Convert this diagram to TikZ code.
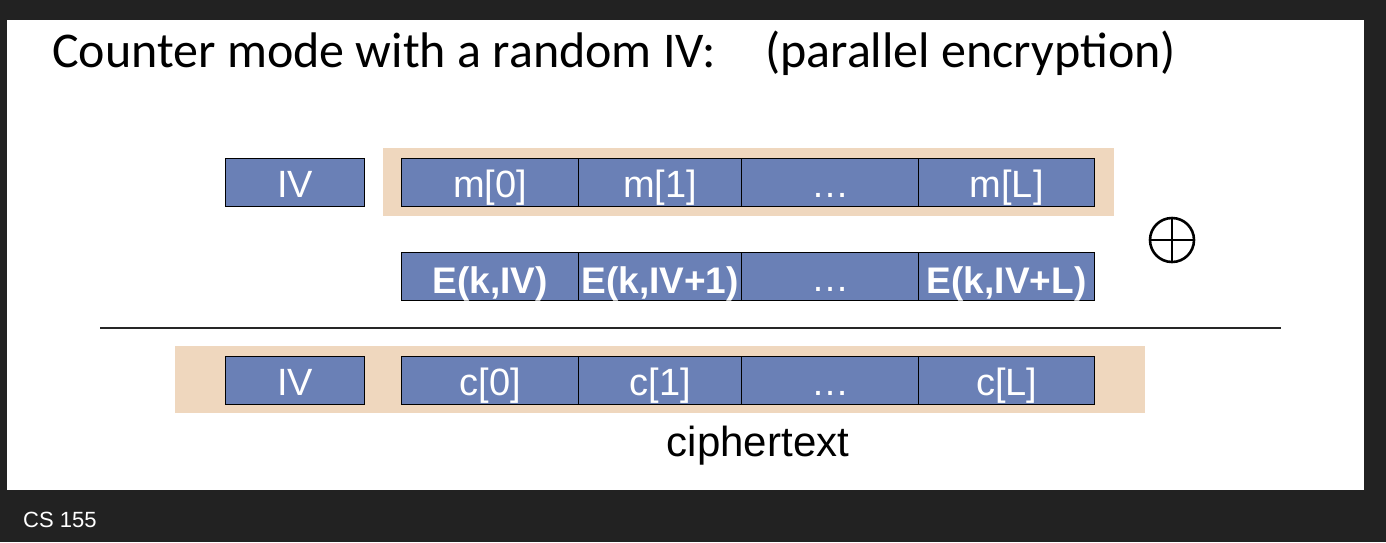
\documentclass[tikz,border=0pt]{standalone}
\usepackage{fontspec}
\setmainfont{Liberation Sans}
\newfontfamily\calibri{Carlito}
\definecolor{slidebg}{HTML}{222222}
\definecolor{cellblue}{HTML}{6A80B6}
\definecolor{bandtan}{HTML}{EFD7BE}
\begin{document}
\begin{tikzpicture}[x=1pt,y=-1pt,
  band/.style={fill=bandtan, draw=none, inner sep=0pt, anchor=north west},
  cell/.style={draw=black, line width=1.3pt, fill=cellblue, text=white, minimum height=48pt,
    inner sep=0pt, anchor=north west, font=\fontsize{38}{40}\selectfont, text height=30pt, text depth=0pt},
  ecell/.style={cell, font=\bfseries\fontsize{37}{40}\selectfont, text height=34pt},
  titletext/.style={anchor=base west, inner sep=0pt, font=\calibri\fontsize{50}{60}\selectfont, text=black}
  ]
\useasboundingbox (0,0) rectangle (1386,542);
\fill[slidebg] (0,0) rectangle (1386,542);
\fill[white] (7,20) rectangle (1364,490);

% title
\node[titletext] (title) at (52,67) {Counter mode with a random IV:};
\node[titletext] (sub) at (765,67) {(parallel encryption)};

% bands
\node[band, minimum width=731pt, minimum height=68pt] (mband) at (383,148) {};
\node[band, minimum width=970pt, minimum height=67pt] (cband) at (175,346) {};

% message row
\node[cell, minimum width=139pt] (iv1) at (225,158) {IV};
\node[cell, minimum width=177pt] (m0) at (401,158) {m[0]};
\node[cell, minimum width=163pt] (m1) at (578,158) {m[1]};
\node[cell, minimum width=177pt] (mdots) at (741,158) {…};
\node[cell, minimum width=176pt] (mL) at (918,158) {m[L]};

% keystream row
\node[ecell, minimum width=177pt] (e0) at (401,252) {E(k,IV)};
\node[ecell, minimum width=163pt] (e1) at (578,252) {E(k,IV+1)};
\node[cell, minimum width=177pt] (edots) at (741,252) {…};
\node[ecell, minimum width=176pt] (eL) at (918,252) {E(k,IV+L)};

% xor symbol
\node[circle, draw=black, line width=2.6pt, minimum size=44pt, inner sep=0pt] (xor) at (1172,240) {};
\draw[line width=2.6pt] (xor.north) -- (xor.south);
\draw[line width=2.6pt] (xor.west) -- (xor.east);

% separator line
\coordinate (l1) at (100,328);
\coordinate (l2) at (1281,328);
\draw[line width=2pt, black!85] (l1) -- (l2);

% ciphertext row
\node[cell, minimum width=139pt] (iv2) at (225,356) {IV};
\node[cell, minimum width=177pt] (c0) at (401,356) {c[0]};
\node[cell, minimum width=163pt] (c1) at (578,356) {c[1]};
\node[cell, minimum width=177pt] (cdots) at (741,356) {…};
\node[cell, minimum width=176pt] (cL) at (918,356) {c[L]};

\node[anchor=base, inner sep=0pt, font=\fontsize{42}{48}\selectfont] (ct) at (758,456) {ciphertext};

% footer
\node[anchor=base west, inner sep=0pt, text=white, font=\fontsize{22}{26}\selectfont] (footer) at (23,527) {CS 155};
\end{tikzpicture}
\end{document}
